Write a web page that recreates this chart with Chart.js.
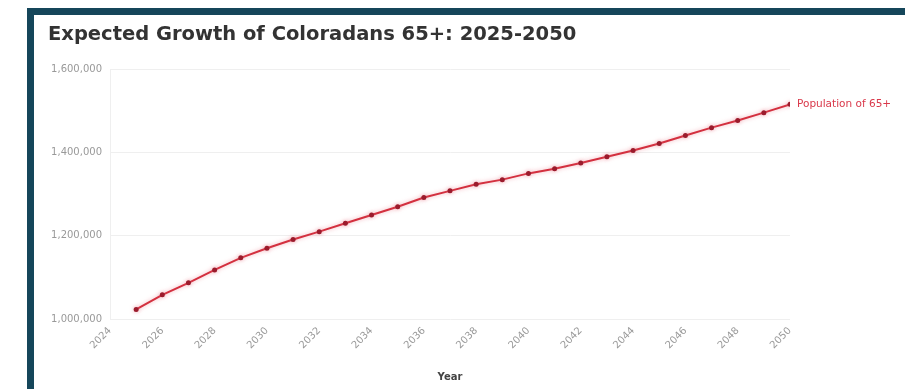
<!DOCTYPE html>
<html>
<head>
<meta charset="utf-8">
<title>Expected Growth of Coloradans 65+</title>
<script src="https://cdn.jsdelivr.net/npm/chart.js@4/dist/chart.umd.min.js"></script>
<style>
  html, body { margin: 0; padding: 0; background: #fff; }
  body { width: 905px; height: 389px; position: relative; overflow: hidden; }
  /* teal frame along the top and left edge */
  .frame {
    position: absolute; left: 27px; top: 8px; right: 0; bottom: 0;
    border-top: 7px solid #15465a; border-left: 7px solid #15465a;
  }
  .wrap { position: absolute; left: 34px; top: 15px; width: 871px; height: 374px; }
</style>
</head>
<body>
<div class="frame"></div>
<div class="wrap"><canvas id="growthChart"></canvas></div>
<script>
const chartTitle = "Expected Growth of Coloradans 65+: 2025-2050";
const seriesName = "Population of 65+";
const years = [2025, 2026, 2027, 2028, 2029, 2030, 2031, 2032, 2033, 2034, 2035, 2036, 2037,
               2038, 2039, 2040, 2041, 2042, 2043, 2044, 2045, 2046, 2047, 2048, 2049, 2050];
const population = [1023000, 1058000, 1087000, 1118000, 1147000, 1170000, 1191000, 1210000, 1230000,
                    1250000, 1270000, 1292000, 1308000, 1324000, 1335000, 1350000, 1361000, 1375000,
                    1390000, 1405000, 1422000, 1441000, 1460000, 1477000, 1496000, 1516000];
const yTicks = [1000000, 1200000, 1400000, 1600000];

const font = "'DejaVu Sans'";
const lineColor = "#d3303f";
const labelColor = "#d9384a";

// soft glow under the line
const glow = {
  id: "glow",
  beforeDatasetDraw(chart) {
    const c = chart.ctx;
    c.save();
    c.shadowColor = "rgba(235, 120, 135, 0.6)";
    c.shadowBlur = 4;
  },
  afterDatasetDraw(chart) {
    chart.ctx.restore();
  }
};

// series name written next to the last point
const endLabel = {
  id: "endLabel",
  afterDatasetsDraw(chart) {
    const meta = chart.getDatasetMeta(0);
    const last = meta.data[meta.data.length - 1];
    const c = chart.ctx;
    c.save();
    c.font = "10.5px " + font;
    c.fillStyle = labelColor;
    c.textAlign = "left";
    c.textBaseline = "middle";
    c.fillText(seriesName, last.x + 7, last.y);
    c.restore();
  }
};

const ctx = document.getElementById("growthChart").getContext("2d");
const growthChart = new Chart(ctx, {
  type: "line",
  data: {
    datasets: [{
      label: seriesName,
      data: years.map((y, i) => ({ x: y, y: population[i] })),
      borderColor: lineColor,
      borderWidth: 2,
      pointRadius: 2.5,
      pointBackgroundColor: "#9b1b2c",
      pointBorderWidth: 0,
      tension: 0,
      fill: false
    }]
  },
  options: {
    responsive: true,
    maintainAspectRatio: false,
    animation: false,
    layout: { padding: { left: 14, right: 115, top: 0, bottom: 2 } },
    plugins: {
      legend: { display: false },
      tooltip: { enabled: false },
      title: {
        display: true,
        text: chartTitle,
        align: "start",
        color: "#333",
        font: { family: font, size: 19.5, weight: "bold" },
        padding: { top: 8, bottom: 23 }
      }
    },
    scales: {
      x: {
        type: "linear",
        min: 2024,
        max: 2050,
        afterFit(scale) { scale.height = 68; },
        ticks: {
          stepSize: 2,
          minRotation: 45,
          maxRotation: 45,
          color: "#999",
          font: { family: font, size: 10 },
          padding: 6,
          callback: v => String(v)
        },
        grid: { display: false, drawTicks: false },
        border: { display: false },
        title: {
          display: true,
          text: "Year",
          color: "#444",
          font: { family: font, size: 10, weight: "bold" },
          padding: { top: 4, bottom: 4 }
        }
      },
      y: {
        min: 1000000,
        max: 1600000,
        afterFit(scale) { scale.width = 62; },
        afterBuildTicks(scale) { scale.ticks = yTicks.map(v => ({ value: v })); },
        ticks: {
          color: "#999",
          font: { family: font, size: 10 },
          padding: 8,
          callback: v => v.toLocaleString("en-US")
        },
        grid: { color: "#efefef", drawTicks: false },
        border: { display: true, color: "#efefef" }
      }
    }
  },
  plugins: [glow, endLabel]
});
</script>
</body>
</html>
